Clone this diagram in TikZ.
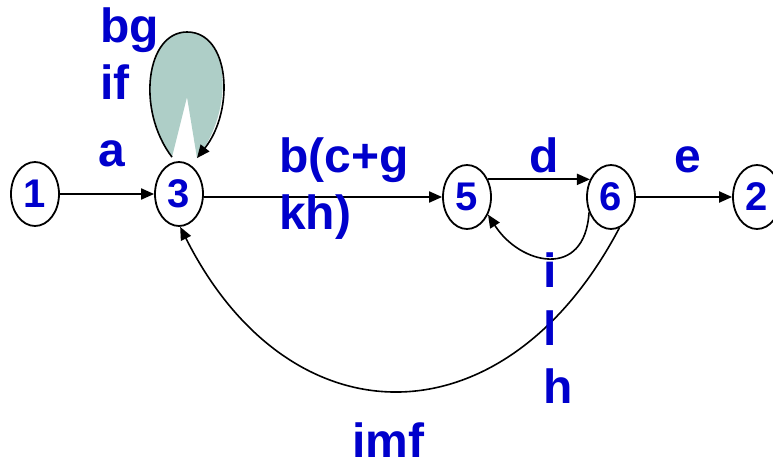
\documentclass[tikz,border=0pt]{standalone}
\usepackage{fontspec}
\setmainfont{Liberation Sans}
\usetikzlibrary{shapes.geometric,arrows.meta,calc}
\definecolor{lblblue}{RGB}{0,0,204}
\definecolor{loopfill}{RGB}{174,206,199}
\tikzset{
  state/.style={ellipse,draw=black,line width=1.8pt,minimum width=48pt,minimum height=64pt,inner sep=0pt,
    font=\fontsize{40}{40}\selectfont\bfseries,text=lblblue},
  lbl/.style={anchor=base west,inner sep=0pt,font=\fontsize{48}{58}\selectfont\bfseries,text=lblblue},
  edge/.style={line width=2pt,-{Triangle[length=13pt,width=11pt]}},
  cedge/.style={line width=1.6pt,-{Triangle[length=13pt,width=11pt]}},
}
\begin{document}
\begin{tikzpicture}[x=1pt,y=-1pt]
\useasboundingbox (0,0) rectangle (773,465);
\node[state] (n1) at (35,194) {1};
\node[state] (n3) at (179,194) {3};
\node[state] (n5) at (467,197) {5};
\node[state] (n6) at (611,197) {6};
\node[state] (n2) at (757,197) {2};
% self loop
\coordinate (lA) at ($(n3.north)+(-7,-4)$);
\coordinate (lB) at ($(n3.north)+(18,-3)$);
\coordinate (apex) at (187,97);
\fill[loopfill] (lA) .. controls (136,110) and (146,32) .. (187,32) .. controls (230,32) and (235,110) .. (lB) -- (apex) -- cycle;
\draw[cedge] (lA) .. controls (136,110) and (146,32) .. (187,32) .. controls (230,32) and (235,110) .. (lB);
% edges
\draw[edge] (n1.east) -- (n1.east -| n3.west);
\draw[edge] (n3.east |- n5.west) -- (n5.west);
\draw[edge] (n5.40) -- (n6.140);
\draw[edge] (n6.east) -- (n2.west);
\draw[cedge] (n6.215) .. controls (585,280) and (520,265) .. (n5.320);
\draw[cedge] (n6.285) .. controls (505,445) and (290,445) .. (n3.272);
% labels
\node[lbl] (lbg) at (100,43) {bg};
\node[lbl] (lif) at (100,100) {if};
\node[lbl] (la) at (98,167) {a};
\node[lbl] (lbc) at (279,172) {b(c+g};
\node[lbl] (lkh) at (279,229) {kh)};
\node[lbl] (ld) at (529,172) {d};
\node[lbl] (le) at (674,172) {e};
\node[lbl] (li) at (543,287) {i};
\node[lbl] (ll) at (543,345) {l};
\node[lbl] (lh) at (543,403) {h};
\node[lbl] (limf) at (352,457) {imf};
\end{tikzpicture}
\end{document}
